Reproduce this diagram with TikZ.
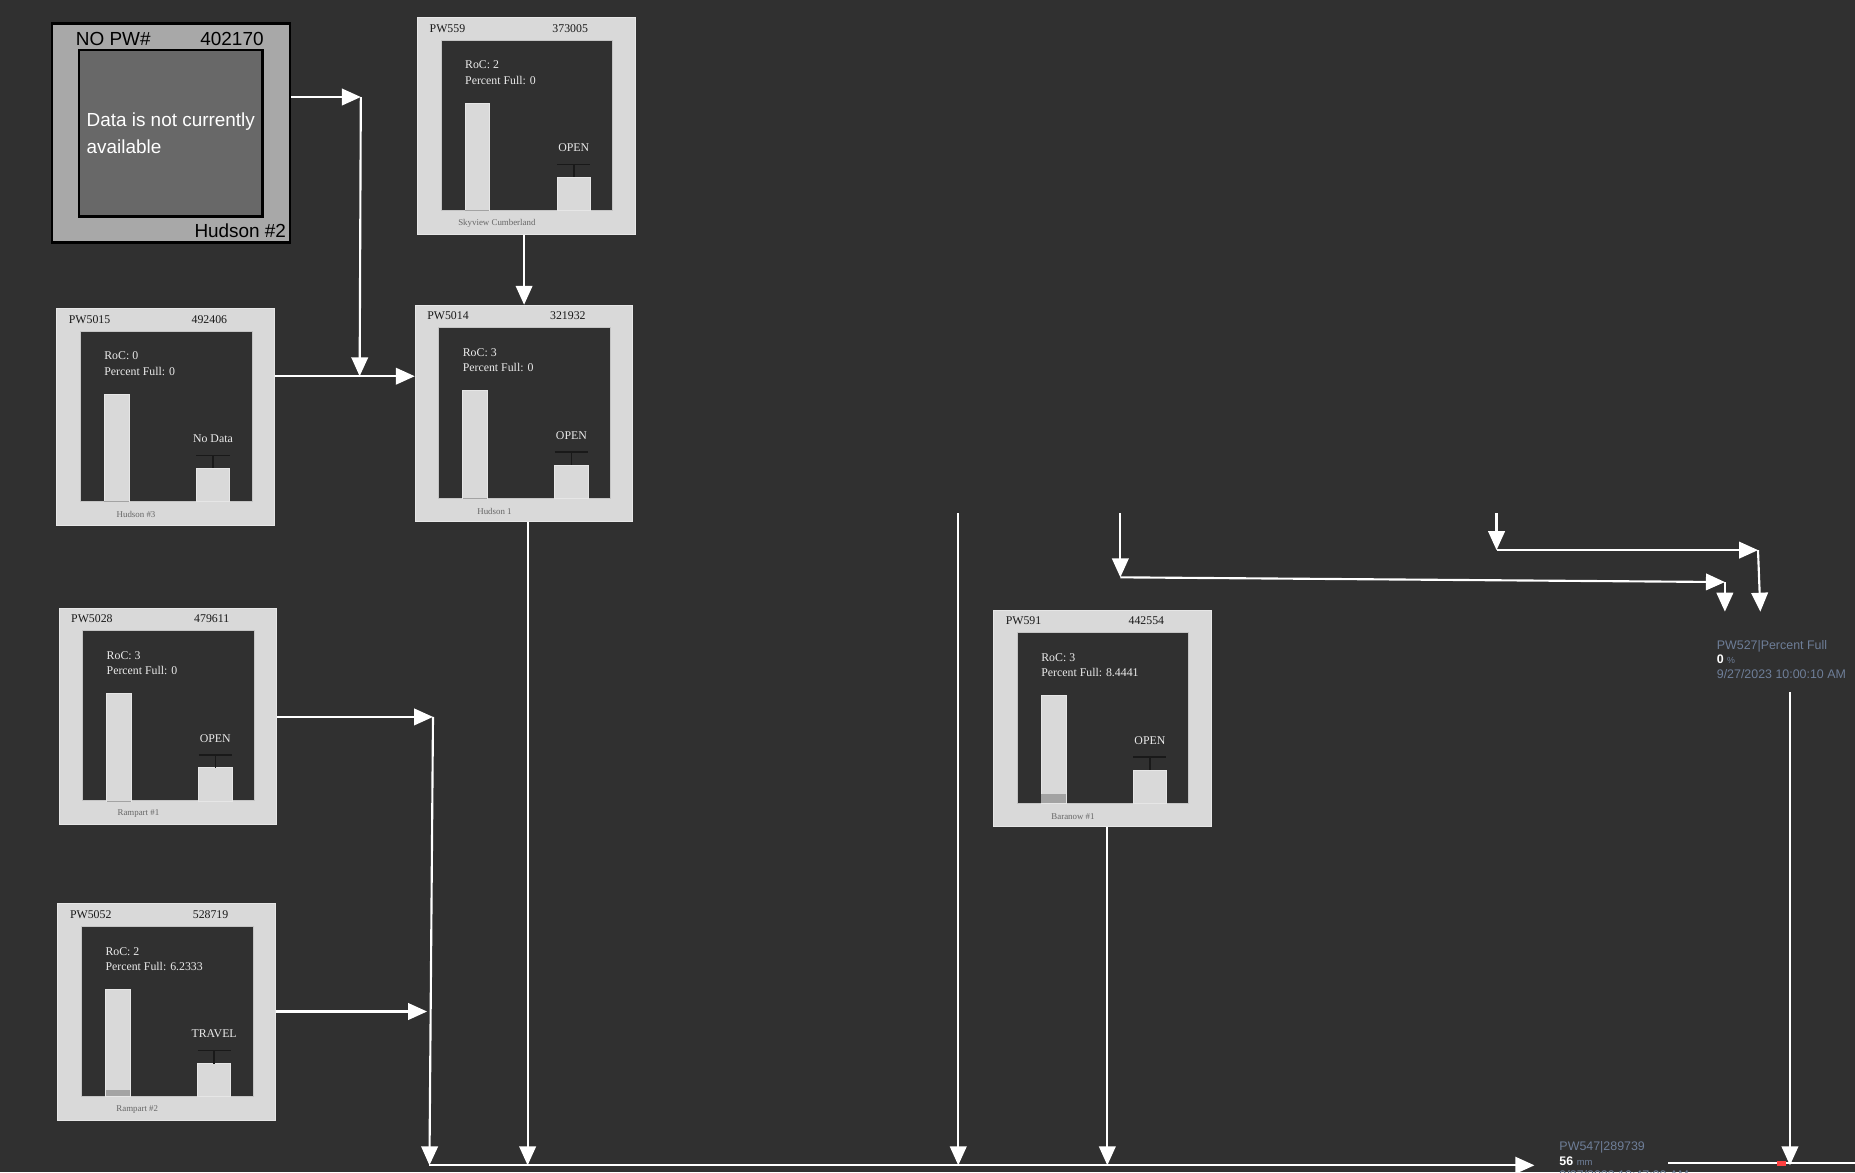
\documentclass[tikz,border=0pt]{standalone}
\usepackage{fontspec}
\setmainfont{Liberation Serif}
\newfontfamily\arialfont{Liberation Sans}
\usepackage{xcolor}
\usepackage{tikz}
\usetikzlibrary{arrows.meta, positioning}

\definecolor{bg}{HTML}{303030}
\definecolor{panel}{HTML}{D9D9D9}
\definecolor{panelline}{HTML}{E6E6E6}
\definecolor{facerim}{HTML}{C4C4C4}
\definecolor{level}{HTML}{A3A3A3}
\definecolor{tagblue}{HTML}{6E7E98}
\definecolor{nodataouter}{HTML}{A8A8A8}
\definecolor{nodatainner}{HTML}{686868}

\tikzstyle{gauge} = [rectangle, draw=panelline, line width=0.8pt, fill=panel, minimum width=184pt, minimum height=183pt]
\tikzstyle{face} = [rectangle, draw=facerim, line width=0.8pt, fill=bg, minimum width=145pt, minimum height=144pt]
\tikzstyle{head} = [inner sep=0pt, text=black!90, font=\fontsize{10}{12}\selectfont]
\tikzstyle{reading} = [inner sep=0pt, text=white!92!black, align=left, font=\fontsize{10}{13}\selectfont]
\tikzstyle{foot} = [inner sep=0pt, text=black!60, font=\fontsize{7.5}{9}\selectfont]
\tikzstyle{bar} = [fill=panel, draw=panelline, line width=0.6pt]
\tikzstyle{fillmark} = [fill=level]
\tikzstyle{stem} = [draw=black!90, line width=1.3pt]
\tikzstyle{nodata} = [rectangle, draw=black, line width=2pt, fill=nodataouter, minimum width=201pt, minimum height=185pt]
\tikzstyle{nodataface} = [rectangle, draw=black, line width=2pt, fill=nodatainner, minimum width=155pt, minimum height=141pt]
\tikzstyle{plain} = [inner sep=0pt, text=black, font=\arialfont\fontsize{16}{23}\selectfont]
\tikzstyle{tag} = [inner sep=0pt, align=left, text=tagblue, font=\arialfont\fontsize{10.5}{12.3}\selectfont]
\tikzstyle{arrow} = [draw=white, line width=1.8pt, ->, >={Triangle[length=16pt,width=14pt]}]
\tikzstyle{line} = [draw=white, line width=1.8pt, -]

% one gauge panel: name, left, top, id, number, RoC, percent, state, site
\newcommand{\pwgauge}[9]{%
  \begin{scope}[shift={(#2,#3)}]
    \node[gauge] (#1) at (92,91.5) {};
    \node[face] (#1-face) at (92.5,91) {};
    \node[head, anchor=west] (#1-id) at (10,9) {#4};
    \node[head] (#1-num) at (129,9) {#5};
    \node[reading, anchor=west] (#1-roc) at (40,46.5) {RoC: #6\\Percent Full: #7};
    \draw[bar] (40,72) rectangle (61,163);
    \fill[fillmark] (40.3,{163-0.91*#7}) rectangle (60.7,162.7);
    \draw[bar] (118,135) rectangle (146,163);
    \draw[stem] (118,124) -- (146,124) (132,124) -- (132,135);
    \node[reading] (#1-state) at (132,110) {#8};
    \node[foot] (#1-site) at (67,174) {#9};
  \end{scope}}

\begin{document}
\begin{tikzpicture}[x=1pt, y=-1pt]
        \useasboundingbox (0,0) rectangle (1568,991);
        \fill[bg] (0,0) rectangle (1568,991);
        \clip (0,0) rectangle (1568,991);

        % station without data
        \node[nodata] (nopw) at (144.5,112.5) {};
        \node[nodataface] (nopw-face) at (144.5,112.5) {};
        \node[plain, anchor=west] (nopw-id) at (64,33) {NO PW\#};
        \node[plain, anchor=east] (nopw-num) at (223,33) {402170};
        \node[plain, anchor=west, align=left, text=white] (nopw-msg) at (73,112.5) {Data is not currently\\available};
        \node[plain, anchor=east] (nopw-site) at (242,195) {Hudson \#2};

        % gauge panels
        \pwgauge{pw559}{353}{15}{PW559}{373005}{2}{0}{OPEN}{Skyview Cumberland}
        \pwgauge{pw5015}{48}{261}{PW5015}{492406}{0}{0}{No Data}{Hudson \#3}
        \pwgauge{pw5014}{351}{258}{PW5014}{321932}{3}{0}{OPEN}{Hudson 1}
        \pwgauge{pw5028}{50}{514}{PW5028}{479611}{3}{0}{OPEN}{Rampart \#1}
        \pwgauge{pw5052}{49}{764}{PW5052}{528719}{2}{6.2333}{TRAVEL}{Rampart \#2}
        \pwgauge{pw591}{840}{516}{PW591}{442554}{3}{8.4441}{OPEN}{Baranow \#1}

        % live tags
        \node[tag, anchor=north west] (pw527) at (1451,541) {PW527|Percent Full\\{\color{white}\bfseries 0} {\fontsize{7.5}{9}\selectfont\%}\\9/27/2023 10:00:10 AM};
        \node[tag, anchor=north west] (pw547) at (1318,965) {PW547|289739\\{\color{white}\bfseries 56} {\fontsize{8}{9}\selectfont mm}\\9/27/2023 10:47:00 AM};

        % bends and ends
        \coordinate (j1) at (305,82);
        \coordinate (j2) at (304,318);
        \coordinate (j3) at (366,606);
        \coordinate (j4) at (361,855);
        \coordinate (b1) at (363,985);
        \coordinate (b3) at (446,985);
        \coordinate (b4) at (810,985);
        \coordinate (b5) at (936,985);
        \coordinate (b6) at (1513,985);
        \coordinate (busend) at (1297,985);
        \coordinate (s1) at (810,434);
        \coordinate (s2) at (947,434);
        \coordinate (j5) at (947,488);
        \coordinate (j6) at (1458,492);
        \coordinate (t1) at (1458,517);
        \coordinate (s3) at (1265,434);
        \coordinate (j7) at (1265,465);
        \coordinate (j8) at (1486,465);
        \coordinate (t2) at (1488,517);
        \coordinate (s4) at (1513,585);
        \coordinate (r1) at (1410,983);
        \coordinate (r2) at (1568,983);

        \draw[arrow] (nopw.east |- j1) -- (j1);
        \draw[arrow] (j1) -- (j2);
        \draw[arrow] (pw5015.east |- j2) -- (pw5014.west |- j2);
        \draw[arrow] (pw559.south -| pw5014.north) -- (pw5014.north);
        \draw[arrow] (pw5014.south -| b3) -- (b3);
        \draw[arrow] (pw5028.east |- j3) -- (j3);
        \draw[arrow] (j3) -- (b1);
        \draw[arrow] (pw5052.east |- j4) -- (j4);
        \draw[arrow] (b1) -- (busend);
        \draw[arrow] (s1) -- (b4);
        \draw[arrow] (pw591.south -| b5) -- (b5);
        \draw[arrow] (s2) -- (j5);
        \draw[arrow] (j5) -- (j6);
        \draw[arrow] (j6) -- (t1);
        \draw[arrow] (s3) -- (j7);
        \draw[arrow] (j7) -- (j8);
        \draw[arrow] (j8) -- (t2);
        \draw[line] (r1) -- (r2);
        \fill[red!75] (1502,981.5) rectangle (1510,985.5);
        \draw[arrow] (s4) -- (b6);
    \end{tikzpicture}
\end{document}
